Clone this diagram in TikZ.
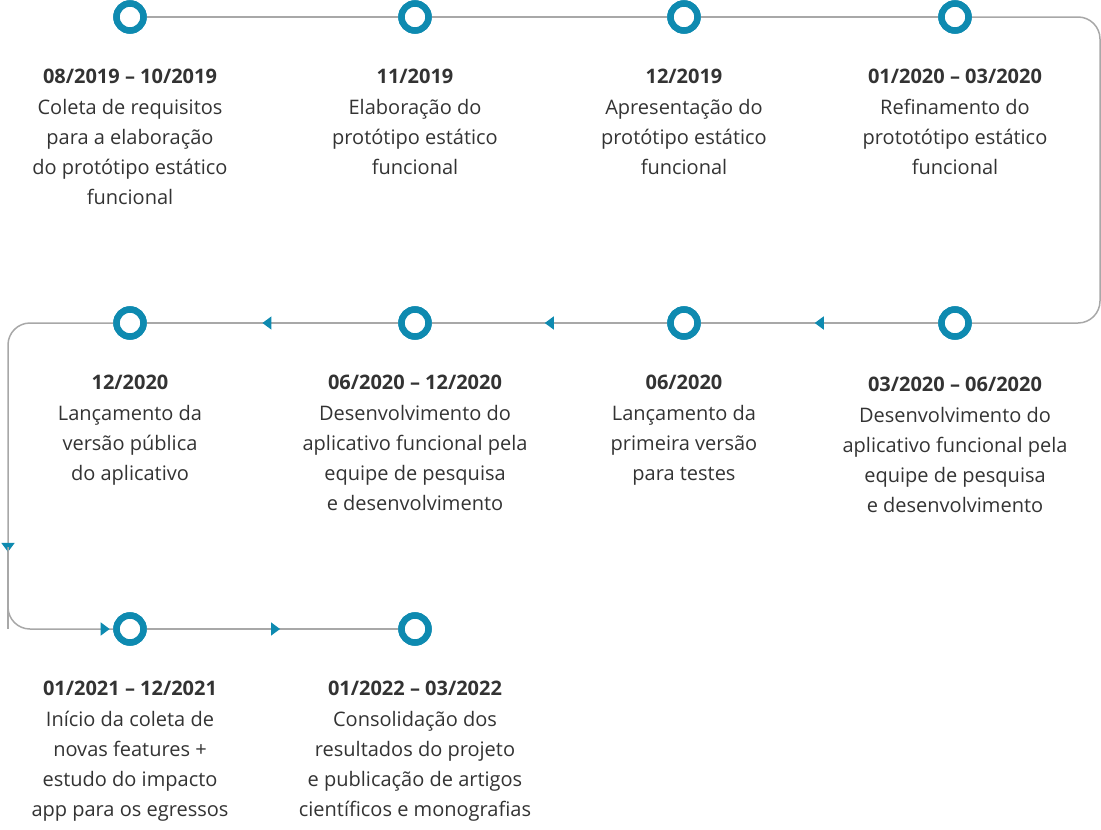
\documentclass[tikz,border=0pt]{standalone}
\usepackage{fontspec}
\setmainfont{Open Sans}
\usetikzlibrary{arrows.meta,decorations.markings}
\definecolor{ringblue}{HTML}{0E8AB0}
\definecolor{linegray}{HTML}{A8A8A8}
\definecolor{txt}{HTML}{333333}
\tikzset{
    ring/.style={circle, draw=ringblue, line width=6.5pt, fill=white, minimum size=27pt, inner sep=0pt},
    when/.style={font=\fontsize{20}{30}\selectfont\bfseries, text=txt, anchor=base},
    what/.style={font=\fontsize{20}{30}\selectfont, text=txt, align=center, anchor=north},
    track/.style={draw=linegray, line width=1.5pt},
    tipat/.style={postaction={decorate}, decoration={markings, mark=at position #1 with {\arrow[ringblue]{Triangle[length=9pt,width=13pt]}}}}
}
\begin{document}
\begin{tikzpicture}[x=1pt,y=-1pt]
    \useasboundingbox (0,0) rectangle (1101,830);
    % corners of the track
    \coordinate (r1) at (1100,17);
    \coordinate (r2) at (1100,323);
    \coordinate (l1) at (8,323);
    \coordinate (l2) at (8,629);
    \coordinate (l3) at (8,547);

    % row 1
    \node[ring] (c1) at (130,17) {};
    \node[ring] (c2) at (415,17) {};
    \node[ring] (c3) at (684,17) {};
    \node[ring] (c4) at (955,17) {};
    \node[when] (d1) at (130,83) {08/2019 – 10/2019};
    \node[when] (d2) at (415,83) {11/2019};
    \node[when] (d3) at (684,83) {12/2019};
    \node[when] (d4) at (955,83) {01/2020 – 03/2020};
    \node[what] (t1) at (130,96) {Coleta de requisitos\\para a elaboração\\do protótipo estático\\funcional};
    \node[what] (t2) at (415,96) {Elaboração do\\protótipo estático\\funcional};
    \node[what] (t3) at (684,96) {Apresentação do\\protótipo estático\\funcional};
    \node[what] (t4) at (955,96) {Refinamento do\\prototótipo estático\\funcional};

    % row 2
    \node[ring] (c5) at (955,323) {};
    \node[ring] (c6) at (684,323) {};
    \node[ring] (c7) at (415,323) {};
    \node[ring] (c8) at (130,323) {};
    \node[when] (d5) at (955,391) {03/2020 – 06/2020};
    \node[when] (d6) at (684,389) {06/2020};
    \node[when] (d7) at (415,389) {06/2020 – 12/2020};
    \node[when] (d8) at (130,389) {12/2020};
    \node[what] (t5) at (955,404) {Desenvolvimento do\\aplicativo funcional pela\\equipe de pesquisa\\e desenvolvimento};
    \node[what] (t6) at (684,402) {Lançamento da\\primeira versão\\para testes};
    \node[what] (t7) at (415,402) {Desenvolvimento do\\aplicativo funcional pela\\equipe de pesquisa\\e desenvolvimento};
    \node[what] (t8) at (130,402) {Lançamento da\\versão pública\\do aplicativo};

    % row 3
    \node[ring] (c9) at (130,629) {};
    \node[ring] (c10) at (415,629) {};
    \node[when] (d9) at (130,695) {01/2021 – 12/2021};
    \node[when] (d10) at (415,695) {01/2022 – 03/2022};
    \node[what] (t9) at (130,708) {Início da coleta de\\novas features +\\estudo do impacto\\app para os egressos};
    \node[what] (t10) at (415,708) {Consolidação dos\\resultados do projeto\\e publicação de artigos\\científicos e monografias};

    % track
    \draw[track] (c1) -- (c2) (c2) -- (c3) (c3) -- (c4);
    \draw[track, rounded corners=22pt] (c4) -- (r1) -- (r2) -- (c5);
    \draw[track, tipat=0.52] (c5) -- (c6);
    \draw[track, tipat=0.52] (c6) -- (c7);
    \draw[track, tipat=0.54] (c7) -- (c8);
    \draw[track, rounded corners=22pt] (c8) -- (l1) -- (l3);
    \draw[track, tipat=0.06] (l3) -- (l2);
    \draw[track, rounded corners=22pt, tipat=0.98] (l3) -- (l2) -- (c9);
    \draw[track, tipat=0.53] (c9) -- (c10);
    % rings on top
    \foreach \c in {c1,c2,c3,c4,c5,c6,c7,c8,c9,c10}
        \node[ring] at (\c) {};
\end{tikzpicture}
\end{document}
